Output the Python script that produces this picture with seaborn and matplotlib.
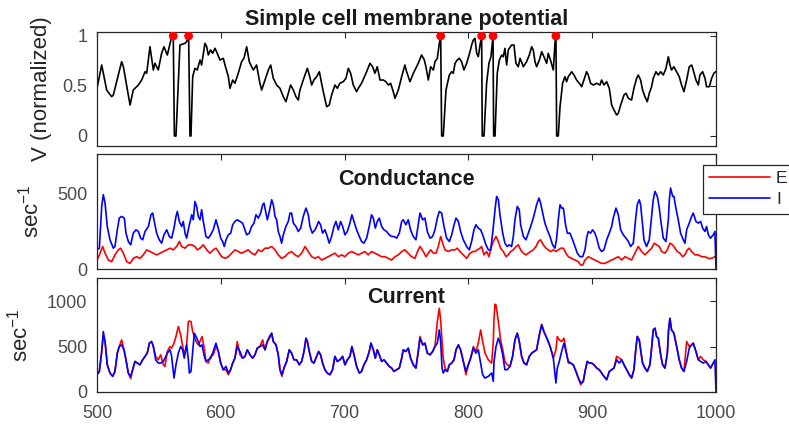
import numpy as np
import pandas as pd
import matplotlib
matplotlib.use("Agg")
import matplotlib.pyplot as plt
from matplotlib.lines import Line2D
import seaborn as sns

# ---------------- data ----------------
v_t = [500.0, 503.8, 507.8, 511.8, 513.2, 519.9, 521.3, 526.7, 529.3, 533.4, 536.1, 538.8, 540.1,
       542.8, 545.5, 546.8, 549.5, 552.2, 554.1, 556.8, 560.3, 561.6, 562.5, 563.8, 567.0, 571.1,
       572.4, 574.0, 575.1, 575.9, 577.3, 579.1, 581.0, 583.2, 584.5, 587.2, 588.6, 589.9, 591.8,
       593.4, 595.3, 596.6, 599.3, 602.0, 603.4, 606.1, 607.4, 609.6, 611.4, 614.1, 616.8, 618.7,
       620.9, 623.0, 624.9, 626.3, 628.9, 631.6, 633.0, 635.7, 638.4, 640.3, 642.4, 645.1, 647.8,
       650.5, 652.6, 654.5, 656.4, 658.6, 660.7, 662.6, 663.9, 666.6, 669.9, 671.5, 673.4, 675.2,
       677.4, 679.6, 681.4, 682.8, 685.5, 687.6, 689.5, 692.2, 694.1, 696.2, 698.9, 701.1, 703.0,
       704.9, 707.0, 709.7, 711.1, 713.7, 717.8, 720.5, 722.6, 724.5, 726.4, 728.6, 731.2, 733.4,
       735.3, 737.2, 739.3, 740.7, 743.4, 746.1, 748.7, 750.1, 752.8, 755.5, 759.5, 762.2, 764.4,
       765.7, 767.6, 769.5, 771.7, 773.0, 774.9, 776.5, 777.6, 778.4, 779.7, 781.9, 784.6, 786.5,
       787.8, 789.2, 791.0, 792.7, 794.5, 796.4, 798.6, 801.3, 802.6, 804.0, 805.3, 806.7, 808.0,
       809.4, 810.7, 811.2, 812.6, 814.7, 816.6, 818.2, 819.9, 820.4, 821.5, 823.3, 825.0, 826.9,
       828.2, 829.5, 830.9, 832.2, 834.9, 836.8, 838.4, 840.3, 841.7, 844.4, 847.0, 849.2, 851.1,
       852.4, 853.8, 855.1, 857.3, 859.2, 861.0, 863.2, 864.5, 866.7, 868.6, 869.9, 870.7, 871.3,
       872.6, 874.0, 876.1, 878.0, 879.3, 880.7, 883.4, 885.3, 887.4, 889.6, 891.5, 894.2, 895.5,
       896.8, 898.7, 900.9, 903.6, 906.3, 907.6, 909.5, 911.7, 913.8, 915.7, 917.6, 919.7, 921.1,
       923.0, 925.7, 927.3, 929.2, 931.8, 933.7, 935.9, 937.2, 939.1, 940.7, 942.6, 944.5, 946.1,
       948.0, 949.3, 951.5, 953.4, 955.3, 957.4, 959.6, 961.5, 962.8, 964.1, 966.0, 968.2, 970.3,
       972.2, 974.1, 976.3, 978.4, 980.3, 981.6, 983.8, 985.7, 987.0, 989.2, 991.1, 992.4, 994.6,
       996.5, 998.3, 999.7]
v_val = [0.477, 0.71, 0.46, 0.393, 0.41, 0.743, 0.693, 0.31, 0.46, 0.51, 0.56, 0.643, 0.627,
         0.893, 0.66, 0.727, 0.66, 0.827, 0.893, 0.81, 0.993, 1.0, 0.0, 0.0, 0.91, 0.927,
         0.943, 1.0, 0.0, 0.0, 0.593, 0.677, 0.66, 0.76, 0.71, 0.927, 0.893, 0.81, 0.86,
         0.827, 0.877, 0.843, 0.76, 0.777, 0.71, 0.593, 0.477, 0.56, 0.527, 0.627, 0.743, 0.777,
         0.893, 0.743, 0.693, 0.66, 0.71, 0.527, 0.46, 0.56, 0.66, 0.71, 0.577, 0.51, 0.477,
         0.393, 0.343, 0.427, 0.51, 0.46, 0.393, 0.36, 0.46, 0.56, 0.677, 0.61, 0.51, 0.56,
         0.593, 0.643, 0.527, 0.443, 0.293, 0.31, 0.41, 0.51, 0.477, 0.527, 0.543, 0.577, 0.677,
         0.627, 0.51, 0.443, 0.477, 0.527, 0.643, 0.727, 0.693, 0.627, 0.693, 0.56, 0.56, 0.543,
         0.51, 0.527, 0.443, 0.377, 0.46, 0.593, 0.71, 0.643, 0.543, 0.627, 0.727, 0.81, 0.76,
         0.693, 0.56, 0.693, 0.66, 0.743, 0.777, 0.927, 1.0, 0.0, 0.0, 0.46, 0.61, 0.643,
         0.627, 0.727, 0.76, 0.777, 0.743, 0.66, 0.727, 0.843, 0.91, 0.96, 0.977, 0.827, 0.793,
         0.91, 1.0, 0.0, 0.0, 0.527, 0.727, 0.793, 1.0, 0.0, 0.0, 0.627, 0.76, 0.81,
         0.793, 0.877, 0.71, 0.86, 0.91, 0.91, 0.727, 0.693, 0.777, 0.693, 0.743, 0.81, 0.893,
         0.86, 0.743, 0.693, 0.76, 0.843, 0.793, 0.727, 0.827, 0.743, 0.66, 0.927, 1.0, 0.0,
         0.0, 0.293, 0.527, 0.593, 0.543, 0.593, 0.643, 0.61, 0.56, 0.527, 0.493, 0.593, 0.643,
         0.61, 0.527, 0.51, 0.527, 0.51, 0.56, 0.51, 0.543, 0.477, 0.31, 0.26, 0.21, 0.227,
         0.31, 0.41, 0.427, 0.377, 0.36, 0.477, 0.577, 0.61, 0.56, 0.46, 0.393, 0.343, 0.427,
         0.493, 0.577, 0.643, 0.61, 0.643, 0.61, 0.677, 0.793, 0.71, 0.66, 0.693, 0.643, 0.593,
         0.51, 0.443, 0.56, 0.693, 0.71, 0.66, 0.56, 0.51, 0.61, 0.643, 0.577, 0.493, 0.493,
         0.577, 0.627, 0.643]
spike_t = [561.6, 574.0, 777.6, 810.7, 819.9, 870.7]
spike_v = [1.0, 1.0, 1.0, 1.0, 1.0, 1.0]

gI_t = [500.0, 501.9, 503.8, 505.1, 506.5, 508.3, 510.5, 513.2, 514.5, 516.4, 518.0, 519.9, 522.1,
        523.4, 525.3, 527.2, 529.3, 531.5, 533.4, 535.3, 536.9, 538.8, 541.5, 543.6, 545.0, 546.8,
        548.2, 550.3, 552.2, 554.1, 556.3, 558.4, 560.3, 562.2, 563.8, 564.9, 566.5, 568.4, 569.7,
        571.1, 572.4, 574.3, 576.5, 577.8, 579.1, 580.5, 581.8, 583.2, 584.5, 585.9, 588.0, 589.9,
        591.8, 593.9, 596.1, 598.0, 599.9, 601.5, 602.8, 604.2, 606.1, 608.0, 609.6, 611.4, 613.3,
        615.5, 617.6, 619.5, 620.9, 623.0, 624.9, 626.8, 628.4, 630.3, 632.2, 633.8, 634.9, 636.2,
        637.6, 639.2, 641.1, 642.4, 643.8, 645.1, 646.4, 647.8, 649.1, 650.5, 652.6, 654.5, 655.9,
        657.2, 658.6, 660.7, 662.6, 664.5, 666.6, 668.8, 670.7, 672.0, 673.9, 676.1, 677.4, 679.0,
        680.6, 682.2, 684.1, 686.0, 687.6, 689.5, 691.4, 693.0, 694.9, 696.8, 698.4, 700.3, 702.2,
        704.3, 705.9, 707.6, 709.7, 711.9, 713.7, 715.6, 717.8, 719.9, 721.8, 723.2, 724.8, 726.4,
        728.0, 729.9, 731.8, 733.9, 736.1, 738.0, 739.9, 742.0, 744.2, 746.1, 747.4, 749.5, 751.4,
        753.3, 755.5, 757.6, 759.5,
        760.9, 763.1, 764.9, 766.8, 769.0, 771.1, 773.0, 774.9, 776.5, 778.4, 780.3, 782.4, 784.6,
        786.5, 788.4, 790.0, 791.9, 793.7, 795.9, 798.6, 800.7, 802.6, 804.5, 806.1, 808.0, 809.9,
        812.0, 814.2, 816.1, 818.0, 819.6, 821.5, 822.8, 824.2, 825.5, 827.7, 829.5, 831.4, 833.0,
        834.9, 836.3, 837.6, 839.5, 841.1, 842.2, 844.4, 846.5, 848.4, 850.3, 852.4, 855.1, 857.0,
        858.3, 860.0, 861.8, 863.7, 865.9, 868.0, 869.9, 871.3, 872.6, 874.0, 875.3, 876.7, 878.5,
        879.9, 882.0, 884.2, 886.1, 888.0, 890.1, 892.3, 894.2, 895.5, 896.8, 898.7, 900.3, 902.2,
        903.6, 905.7, 907.6, 909.5, 911.7, 913.8, 915.7, 917.0, 919.2, 921.1, 923.0, 925.1, 927.3,
        929.2, 931.0, 933.2, 935.3, 936.4, 938.0, 939.1, 940.7, 941.8, 943.9, 946.1, 948.0, 949.3,
        950.7, 952.6, 954.2, 955.3, 957.4, 959.6, 961.5, 962.3, 963.3, 965.0, 966.0, 967.6, 969.5,
        971.4, 973.6, 974.9, 976.3, 978.4, 980.3, 981.6, 983.8, 985.7, 987.6, 989.2, 991.1, 992.4,
        993.8, 995.6, 997.8, 999.1, 1000.0]
gI_val = [126, 137, 412, 489, 434, 280, 192, 137, 148, 258, 335, 346, 335,
          236, 181, 159, 236, 258, 247, 203, 192, 247, 280, 357, 368, 291,
          236, 192, 170, 225, 258, 214, 203, 269, 346, 379, 313, 280, 313,
          236, 203, 280, 357, 324, 445, 412, 346, 324, 390, 313, 214, 203,
          225, 258, 324, 269, 203, 181, 148, 192, 225, 236, 291, 313, 324,
          313, 302, 258, 225, 236, 280, 302, 357, 335, 368, 423, 434, 379,
          324, 379, 456, 423, 346, 324, 247, 214, 170, 225, 280, 313, 368,
          368, 302, 280, 247, 269, 346, 401, 357, 280, 236, 258, 280, 313,
          291, 236, 258, 214, 170, 214, 280, 313, 258, 313, 280, 225, 247,
          302, 357, 313, 258, 214, 181, 170, 203, 280, 357, 335, 269, 313,
          335, 280, 258, 247, 225, 214, 214, 203, 236, 313, 324, 291, 324,
          258, 214, 192, 291,
          368, 324, 335, 247, 203, 214, 258, 335, 379, 368, 280, 203, 181,
          225, 291, 335, 313, 247, 192, 148, 126, 181, 258, 291, 269, 258,
          214, 159, 126, 126, 236, 390, 478, 456, 357, 236, 170, 148, 159,
          148, 214, 324, 412, 390, 291, 214, 192, 236, 280, 335, 423, 467,
          434, 368, 302, 258, 214, 159, 137, 203, 324, 423, 401, 401, 291,
          236, 236, 192, 148, 104, 81, 81, 126, 203, 247, 236, 258, 236,
          203, 137, 115, 126, 192, 236, 280, 335, 401, 357, 258, 225, 203,
          181, 148, 170, 346, 423, 456, 423, 291, 192, 148, 192, 346, 456,
          511, 478, 401, 324, 203, 181, 324, 456, 533, 478, 478, 401, 324,
          236, 192, 170, 258, 302, 346, 368, 313, 302, 313, 269, 247, 280,
          225, 203, 225, 247, 0]

gE_t = [500.0, 501.9, 504.6, 506.5, 509.2, 511.8, 514.5, 517.2, 519.1, 521.3, 524.0, 526.7, 529.3,
        532.0, 534.7, 537.4, 540.1, 542.8, 545.5, 548.2, 550.9, 553.6, 556.3, 559.0, 561.6, 564.3,
        566.5, 568.4, 571.1, 573.8, 576.5, 579.1, 581.0, 583.2, 585.9, 588.6, 591.3, 593.9, 596.1,
        598.0, 600.7, 603.4, 606.1, 608.8, 611.4, 614.1, 616.8, 619.5, 622.2, 624.9, 627.6, 630.3,
        633.0, 635.7, 638.4, 641.1, 643.8, 646.4, 649.1, 651.8, 654.5, 657.2, 659.9, 662.6, 665.3,
        668.0, 670.7, 673.4, 676.1, 678.7, 681.4, 684.1, 686.8, 689.5, 692.2, 694.9, 697.6, 700.3,
        703.0, 705.7, 708.4, 711.1, 713.7, 716.4, 719.1, 721.8, 724.5, 727.2, 729.9, 732.6, 735.3,
        738.0, 740.7, 743.4, 746.1, 748.7, 751.4, 754.1, 756.8, 759.5,
        760.9, 763.6, 765.7, 767.6, 769.5, 771.7, 773.8, 775.7, 777.6, 779.2, 781.1, 783.8, 786.5,
        789.2, 791.0, 793.2, 795.9, 798.6, 801.3, 803.4, 805.3, 807.2, 809.4, 810.7, 812.6, 814.7,
        816.6, 818.2, 820.1, 822.3, 824.2, 826.0, 828.2, 830.4, 832.2, 834.1, 836.3, 838.4, 840.3,
        842.2, 844.4, 846.5, 848.4, 850.3, 852.4, 854.6, 856.5, 858.3, 860.5, 862.7, 864.5, 866.4,
        868.6, 870.7, 872.6, 874.5, 876.7, 878.8, 880.7, 883.4, 886.1, 888.8, 890.7, 892.3, 894.2,
        896.8, 899.5, 902.2, 904.9, 907.6, 910.3, 913.0, 915.7, 918.4, 921.1, 923.8, 926.5, 929.2,
        931.8, 934.5, 937.2, 939.9, 942.6, 945.3, 948.0, 950.1, 952.0, 954.2, 956.1, 958.8, 960.7,
        962.8, 965.0, 966.8, 968.7, 970.9, 973.0, 974.9, 976.8, 978.4, 980.3, 983.0, 985.7, 988.4,
        991.1, 993.8, 996.5, 999.1]
gE_val = [59, 93, 148, 104, 59, 48, 93, 126, 137, 104, 48, 37, 70,
          81, 70, 93, 126, 115, 104, 93, 104, 115, 126, 137, 126, 148,
          181, 148, 137, 159, 159, 148, 126, 137, 159, 126, 104, 126, 137,
          115, 81, 70, 81, 104, 126, 115, 104, 115, 126, 104, 93, 126,
          115, 137, 137, 148, 126, 93, 70, 81, 104, 115, 93, 81, 104,
          148, 115, 81, 70, 81, 59, 70, 81, 93, 104, 81, 93, 81,
          104, 115, 104, 93, 104, 115, 93, 115, 104, 93, 81, 81, 70,
          59, 81, 93, 115, 126, 104, 81, 70, 126,
          148, 115, 81, 104, 126, 104, 104, 148, 214, 170, 126, 115, 126,
          126, 137, 115, 93, 70, 104, 115, 115, 126, 137, 148, 93, 115,
          81, 137, 181, 214, 181, 137, 115, 81, 93, 115, 126, 148, 159,
          126, 104, 93, 104, 115, 126, 148, 181, 192, 159, 137, 126, 115,
          126, 115, 126, 137, 137, 104, 81, 70, 59, 48, 26, 26, 59,
          81, 70, 59, 48, 37, 37, 48, 59, 70, 81, 59, 81, 70,
          59, 104, 148, 115, 93, 115, 137, 170, 159, 148, 115, 104, 126,
          170, 159, 137, 115, 104, 81, 93, 126, 137, 115, 93, 93, 81,
          81, 70, 70, 81]

cI_t = [500.0, 501.9, 503.8, 505.1, 506.5, 508.3, 510.5, 512.7, 514.5, 516.4, 518.0, 519.9, 521.8,
        523.4, 525.3, 527.2, 528.8, 530.7, 532.6, 534.7, 536.9, 538.8, 540.6, 542.3, 544.1, 545.5,
        547.4, 549.5, 551.4, 553.6, 554.9, 556.8, 559.0, 560.3, 562.2, 563.8, 565.7, 567.6, 569.2,
        570.5, 572.4, 573.8, 574.6, 575.9, 577.3, 578.6, 580.0, 581.8, 583.2, 584.8, 586.4, 588.0,
        589.9, 591.8, 593.9, 596.1, 598.0, 599.9, 602.0, 604.2, 606.1, 607.9, 609.6, 611.4, 613.3,
        615.5, 617.6, 619.5, 621.4, 623.6, 625.7, 627.6, 629.5, 631.6, 633.8, 635.7, 637.6, 639.2,
        641.1, 642.4, 644.6, 646.4, 647.8, 649.4, 651.0, 653.2, 655.3, 657.2, 659.1, 661.2, 663.4,
        665.3, 667.2, 668.8, 669.9, 671.5, 673.4, 675.2, 677.4, 679.0, 680.6, 682.2, 684.1, 686.0,
        688.2, 690.3, 692.2, 694.1, 696.2, 698.4, 700.3, 702.2, 704.3, 705.9, 707.6, 709.7, 711.9,
        713.7, 715.6, 717.8, 719.9, 721.3, 723.2, 724.8, 726.4, 728.0, 729.9, 731.8, 733.9, 736.1,
        738.0, 739.9, 742.0, 744.2, 746.1, 747.4, 749.5, 751.4, 753.3, 755.5, 757.6, 759.5,
        760.9, 763.1, 764.9, 766.8, 769.0, 771.1, 773.0, 774.9, 776.5, 777.6, 778.7, 779.7, 781.1,
        783.0, 784.6, 786.5, 788.4, 790.0, 791.9, 793.7, 795.9, 798.0, 799.9, 801.8, 804.0, 806.1,
        808.0, 809.9, 811.5, 813.4, 816.1, 818.8, 820.1, 820.7, 822.3, 824.2, 826.0, 827.7, 829.5,
        831.4, 833.6, 835.7, 837.6, 839.5, 841.1, 843.0, 844.9, 847.0, 849.2, 851.1, 853.0, 855.1,
        857.3, 859.2, 861.0, 862.7, 864.5, 866.4, 868.6, 870.7, 871.8, 873.4, 875.3, 877.2, 878.8,
        880.7, 882.6, 884.7, 886.9, 888.8, 890.7, 892.8, 894.2, 896.0, 897.7, 899.5, 901.4, 903.6,
        905.7, 907.6, 909.5, 911.7, 913.8, 915.7, 917.6, 919.7, 921.9, 923.8, 925.7, 927.8, 930.0,
        931.8, 933.7, 935.3, 936.4, 938.0, 939.1, 940.7, 942.6, 944.5, 946.6, 948.0, 949.3, 950.7,
        952.0, 953.4, 955.3, 956.9, 958.8, 960.7, 961.7, 962.8, 964.1, 966.0, 968.2, 970.3, 972.2,
        974.1, 976.3, 978.4, 980.3, 981.6, 983.8, 985.7, 987.6, 989.7, 991.9, 993.8, 995.6, 997.8,
        999.1, 1000.0]
cI_val = [190, 226, 445, 664, 555, 299, 208, 172, 226, 427, 500, 518, 464,
          354, 208, 172, 245, 336, 318, 299, 354, 391, 427, 537, 555, 500,
          354, 318, 318, 336, 372, 427, 464, 391, 153, 299, 427, 500, 464,
          372, 518, 354, 208, 226, 445, 646, 610, 555, 500, 518, 409, 336,
          354, 372, 445, 537, 445, 318, 245, 281, 208, 245, 318, 372, 500,
          445, 372, 391, 464, 409, 372, 409, 482, 500, 518, 464, 555, 591,
          646, 555, 518, 409, 245, 190, 263, 336, 464, 427, 354, 354, 299,
          336, 445, 591, 555, 445, 336, 318, 391, 445, 409, 318, 245, 208,
          190, 245, 391, 336, 354, 391, 299, 354, 391, 500, 409, 281, 208,
          226, 299, 354, 445, 537, 464, 372, 464, 409, 336, 354, 318, 281,
          263, 226, 245, 263, 372, 464, 445, 482, 372, 299, 263, 445,
          591, 518, 537, 427, 409, 445, 500, 537, 683, 555, 263, 208, 245,
          226, 299, 318, 354, 464, 518, 464, 336, 226, 299, 372, 482, 427,
          464, 318, 190, 153, 172, 208, 117, 336, 500, 591, 518, 409, 245,
          245, 281, 391, 573, 646, 555, 391, 318, 299, 391, 427, 445, 464,
          628, 737, 664, 610, 555, 482, 372, 99, 263, 336, 445, 537, 445,
          336, 318, 299, 226, 153, 99, 117, 226, 336, 318, 318, 299, 263,
          245, 208, 172, 135, 226, 245, 263, 354, 318, 354, 299, 245, 190,
          153, 245, 482, 610, 573, 464, 318, 263, 226, 299, 482, 683, 701,
          610, 591, 409, 299, 263, 427, 683, 810, 683, 646, 500, 354, 263,
          226, 336, 482, 518, 537, 445, 354, 336, 318, 336, 299, 263, 318,
          354, 0]

cE_t = [500.0, 501.9, 503.8, 505.1, 506.5, 508.3, 510.5, 512.7, 514.5, 516.4, 518.0, 519.9, 521.8,
        523.4, 525.3, 527.2, 528.8, 530.7, 532.6, 534.7, 536.9, 538.8, 540.6, 542.3, 544.1, 545.5,
        547.4, 549.5, 551.4, 553.6, 554.9, 556.8, 559.0, 560.3, 562.2, 563.8, 565.7, 567.6, 569.2,
        570.5, 572.4, 573.8, 574.6, 575.9, 577.3, 578.6, 580.0, 581.8, 583.2, 584.8, 586.4, 588.0,
        589.9, 591.8, 593.9, 596.1, 598.0, 599.9, 602.0, 604.2, 606.1, 607.9, 609.6, 611.4, 613.3,
        615.5, 617.6, 619.5, 621.4, 623.6, 625.7, 627.6, 629.5, 631.6, 633.8, 635.7, 637.6, 639.2,
        641.1, 642.4, 644.6, 646.4, 647.8, 649.4, 651.0, 653.2, 655.3, 657.2, 659.1, 661.2, 663.4,
        665.3, 667.2, 668.8, 669.9, 671.5, 673.4, 675.2, 677.4, 679.0, 680.6, 682.2, 684.1, 686.0,
        688.2, 690.3, 692.2, 694.1, 696.2, 698.4, 700.3, 702.2, 704.3, 705.9, 707.6, 709.7, 711.9,
        713.7, 715.6, 717.8, 719.9, 721.3, 723.2, 724.8, 726.4, 728.0, 729.9, 731.8, 733.9, 736.1,
        738.0, 739.9, 742.0, 744.2, 746.1, 747.4, 749.5, 751.4, 753.3, 755.5, 757.6, 759.5,
        760.9, 763.1, 764.9, 766.8, 769.0, 771.1, 773.0, 774.9, 776.5, 777.6, 778.7, 779.7, 781.1,
        783.0, 784.6, 786.5, 788.4, 790.0, 791.9, 793.7, 795.9, 798.0, 799.9, 801.8, 804.0, 806.1,
        808.0, 809.9, 811.5, 813.4, 816.1, 818.8, 820.1, 820.7, 821.5, 822.3, 824.2, 826.0, 827.7,
        829.5, 831.4, 833.6, 835.7, 837.6, 839.5, 841.1, 843.0, 844.9, 847.0, 849.2, 851.1, 853.0,
        855.1, 857.3, 859.2, 861.0, 862.7, 864.5, 866.4, 868.6, 870.7, 871.8, 873.4, 875.3, 877.2,
        878.8, 880.7, 882.6, 884.7, 886.9, 888.8, 890.7, 892.8, 894.2, 896.0, 897.7, 899.5, 901.4,
        903.6, 905.7, 907.6, 909.5, 911.7, 913.8, 915.7, 917.6, 919.7, 921.9, 923.8, 925.7, 927.8,
        930.0, 931.8, 933.7, 935.3, 936.4, 938.0, 939.1, 940.7, 942.6, 944.5, 946.6, 948.0, 949.3,
        950.7, 952.0, 953.4, 955.3, 956.9, 958.8, 960.7, 961.7, 962.8, 964.1, 966.0, 968.2, 970.3,
        972.2, 974.1, 976.3, 978.4, 980.3, 981.6, 983.8, 985.7, 987.6, 989.7, 991.9, 993.8, 995.6,
        997.8, 999.1]
cE_val = [190, 226, 445, 610, 555, 299, 208, 172, 226, 427, 500, 573, 464,
          354, 208, 146, 245, 336, 318, 299, 354, 391, 427, 537, 555, 500,
          391, 354, 409, 299, 281, 445, 500, 482, 537, 610, 719, 628, 500,
          409, 518, 774, 780, 774, 664, 610, 555, 518, 555, 610, 500, 336,
          318, 391, 409, 500, 445, 318, 245, 245, 190, 245, 318, 372, 555,
          409, 372, 391, 464, 409, 372, 409, 482, 500, 573, 464, 555, 610,
          646, 555, 518, 409, 245, 172, 263, 336, 464, 427, 354, 354, 299,
          336, 445, 591, 555, 445, 336, 318, 391, 445, 409, 318, 245, 208,
          190, 245, 391, 336, 354, 391, 299, 354, 391, 500, 409, 281, 208,
          226, 299, 354, 445, 537, 464, 372, 464, 409, 336, 354, 318, 281,
          263, 226, 245, 263, 372, 464, 445, 482, 372, 299, 263, 445,
          610, 518, 537, 427, 409, 445, 500, 774, 920, 792, 555, 372, 263,
          226, 299, 318, 354, 464, 518, 464, 336, 190, 299, 372, 500, 445,
          537, 683, 555, 427, 354, 318, 555, 810, 965, 956, 774, 573, 464,
          336, 299, 281, 391, 573, 646, 555, 391, 318, 299, 391, 427, 445,
          464, 628, 745, 664, 610, 555, 482, 372, 464, 610, 573, 555, 591,
          464, 318, 318, 299, 226, 153, 80, 117, 226, 336, 318, 318, 299,
          263, 245, 208, 172, 135, 226, 245, 263, 391, 372, 354, 299, 245,
          190, 153, 245, 482, 610, 573, 464, 318, 263, 226, 299, 482, 683,
          701, 610, 591, 409, 299, 263, 427, 683, 810, 683, 646, 500, 354,
          263, 226, 555, 500, 518, 537, 445, 354, 391, 354, 336, 299, 263,
          318, 336]

x_ticks = [500, 600, 700, 800, 900, 1000]
legend_labels = ["E", "I"]

# ---------------- style ----------------
sns.set_theme(style="white")
plt.rcParams["font.family"] = ["Liberation Sans", "DejaVu Sans"]
plt.rcParams["mathtext.default"] = "regular"

W, H = 789, 425
fig = plt.figure(figsize=(W / 100, H / 100), dpi=100)
fig.patch.set_facecolor("white")

def frac(left, top, right, bottom):
    return [left / W, 1 - bottom / H, (right - left) / W, (bottom - top) / H]

ax1 = fig.add_axes(frac(97, 32, 716, 146))
ax2 = fig.add_axes(frac(97, 154, 716, 269))
ax3 = fig.add_axes(frac(97, 278, 716, 392))

frame_c = "#262626"
tick_lab_c = "#4a4a4a"
LW = 1.2
for ax in (ax1, ax2, ax3):
    ax.set_facecolor("white")
    for s in ax.spines.values():
        s.set_color(frame_c)
        s.set_linewidth(0.9)
        s.set_visible(True)
    ax.tick_params(direction="in", top=True, right=True, length=4.5, width=0.8,
                   color=frame_c, labelcolor=tick_lab_c, labelsize=13, pad=7)
    ax.set_xlim(500, 1000)
    ax.set_xticks(x_ticks)
    ax.grid(False)

# membrane potential
sns.lineplot(x=v_t, y=v_val, ax=ax1, color="black", linewidth=LW,
             estimator=None, sort=False, legend=False)
sns.scatterplot(x=spike_t, y=spike_v, ax=ax1, color="red", s=40,
                edgecolor="none", zorder=5, legend=False)
ax1.set_ylim(-0.1, 1.04)
ax1.set_yticks([0, 0.5, 1])
ax1.set_yticklabels(["0", "0.5", "1"])
ax1.set_xticklabels([])
ax1.text(0.5, 1.061, "Simple cell membrane potential", transform=ax1.transAxes,
         ha="center", va="baseline", fontsize=15.5, fontweight="bold", color="#1a1a1a")
ax1.set_ylabel("V (normalized)", fontsize=16, color="#262626")
ax1.yaxis.set_label_coords(-0.072, 0.5)

# conductance
sns.lineplot(x=gE_t, y=gE_val, ax=ax2, color="red", linewidth=LW,
             estimator=None, sort=False, legend=False)
sns.lineplot(x=gI_t, y=gI_val, ax=ax2, color="blue", linewidth=LW,
             estimator=None, sort=False, legend=False)
ax2.set_ylim(0, 757)
ax2.set_yticks([0, 500])
ax2.set_xticklabels([])
ax2.text(0.5, 0.73, "Conductance", transform=ax2.transAxes, ha="center",
         va="baseline", fontsize=15.5, fontweight="bold", color="#1a1a1a")
ax2.set_ylabel("sec$^{-1}$", fontsize=16, color="#262626")
ax2.yaxis.set_label_coords(-0.086, 0.5)

# current
sns.lineplot(x=cE_t, y=cE_val, ax=ax3, color="red", linewidth=LW,
             estimator=None, sort=False, legend=False)
sns.lineplot(x=cI_t, y=cI_val, ax=ax3, color="blue", linewidth=LW,
             estimator=None, sort=False, legend=False)
ax3.set_ylim(0, 1253)
ax3.set_yticks([0, 500, 1000])
ax3.tick_params(axis="x", pad=9)
ax3.text(0.5, 0.78, "Current", transform=ax3.transAxes, ha="center",
         va="baseline", fontsize=15.5, fontweight="bold", color="#1a1a1a")
ax3.set_ylabel("sec$^{-1}$", fontsize=16, color="#262626")
ax3.yaxis.set_label_coords(-0.104, 0.5)

handles = [Line2D([], [], color="red", linewidth=LW),
           Line2D([], [], color="blue", linewidth=LW)]
leg = fig.legend(handles, legend_labels, loc="upper left",
                 bbox_to_anchor=(703 / W, 1 - 165 / H), frameon=True, fancybox=False,
                 framealpha=1, edgecolor=frame_c, fontsize=12.5, handlelength=3.5,
                 handletextpad=0.35, borderpad=0.35, labelspacing=0.35, borderaxespad=0)
leg.get_frame().set_linewidth(0.9)
for t in leg.get_texts():
    t.set_color("#262626")

fig.savefig("out.png", dpi=100)
